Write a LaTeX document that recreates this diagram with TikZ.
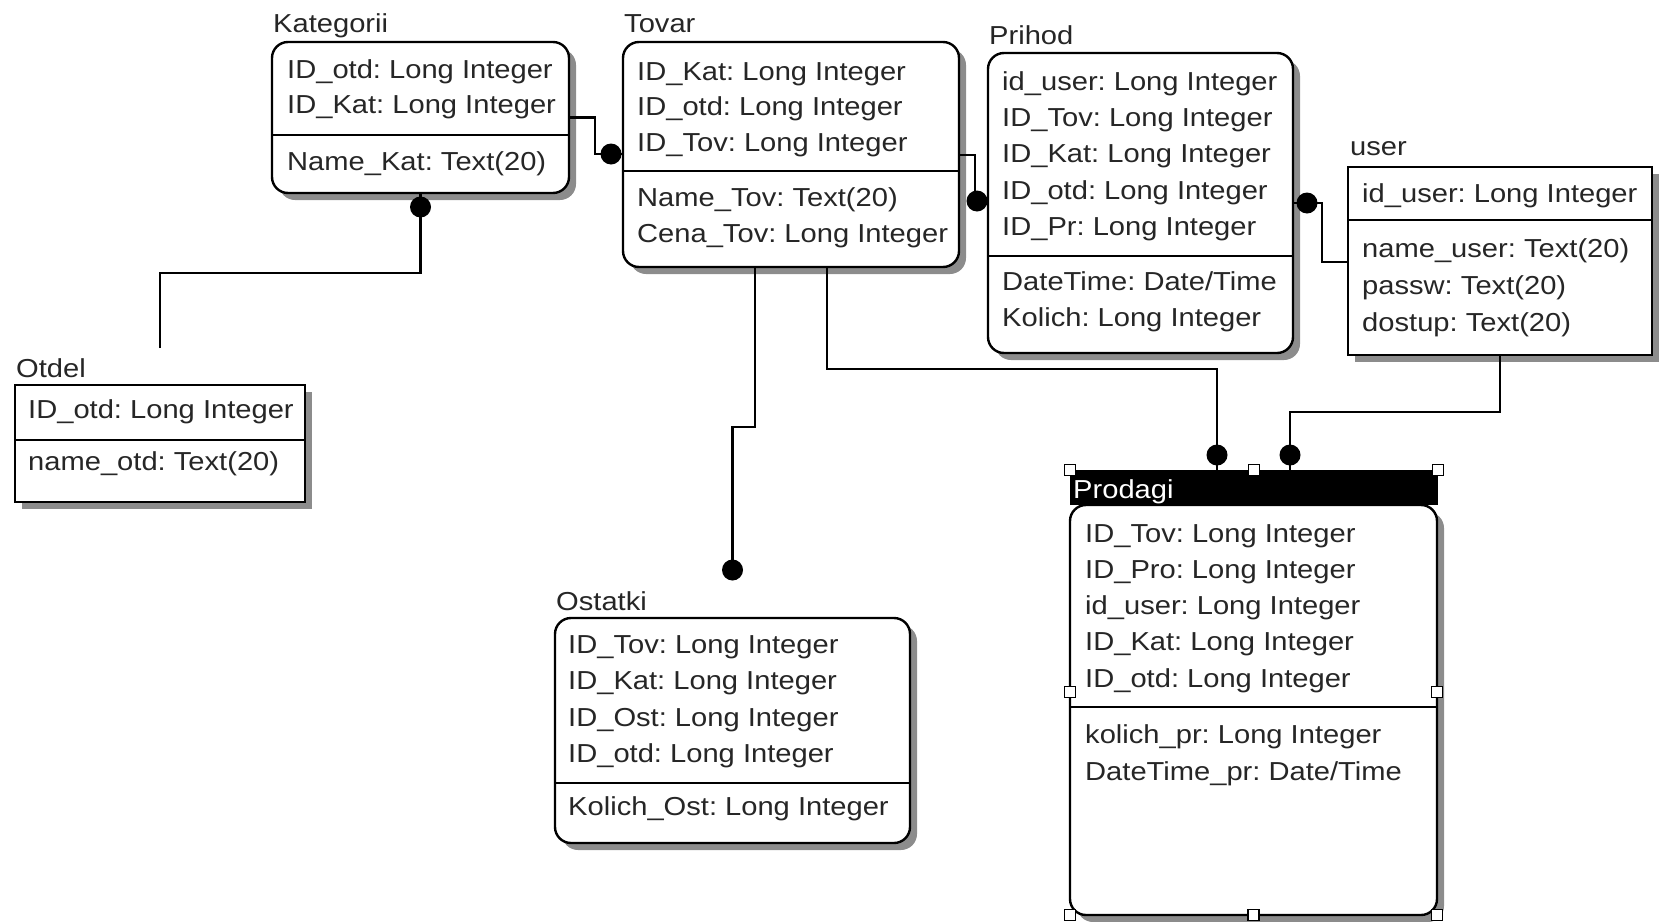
\documentclass[tikz,border=0pt]{standalone}
\usepackage{fontspec}
\setmainfont{Liberation Sans}[FakeStretch=1.12]
\frenchspacing
\usetikzlibrary{shadows,calc}

\tikzset{
  ent/.style={draw, fill=white, line width=2.4pt, anchor=north west,
    inner sep=0pt, outer sep=0pt,
    drop shadow={shadow xshift=7pt, shadow yshift=-7pt, fill=black!45, opacity=1}},
  dep/.style={ent, rounded corners=16pt},
  attr/.style={anchor=base west, inner sep=0pt, text=black!85,
    font=\fontsize{26}{36}\selectfont},
  rel/.style={line width=2.4pt},
  dot/.style={fill=black},
  handle/.style={draw, fill=white, line width=1.6pt, minimum size=11pt, inner sep=0pt}
}

\begin{document}
\begin{tikzpicture}[x=1pt,y=-1pt]
  \useasboundingbox (0,0) rectangle (1662,921);

  % entity boxes
  \node[dep, minimum width=297pt, minimum height=151pt] (kat) at (272,42)  {};
  \node[dep, minimum width=336pt, minimum height=225pt] (tov) at (623,42)  {};
  \node[dep, minimum width=305pt, minimum height=300pt] (pri) at (988,53)  {};
  \node[ent, minimum width=304pt, minimum height=188pt] (usr) at (1348,167) {};
  \node[ent, minimum width=290pt, minimum height=117pt] (otd) at (15,385)  {};
  \node[dep, minimum width=355pt, minimum height=225pt] (ost) at (555,618) {};
  \node[dep, minimum width=367pt, minimum height=410pt] (prd) at (1070,505) {};
  \node[fill=black, anchor=north west, inner sep=0pt, outer sep=0pt,
        minimum width=368pt, minimum height=35pt] (prdh) at (1070,470) {};

  % key / non-key dividers
  \draw[rel] (kat.west |- 0,135) -- (kat.east |- 0,135);
  \draw[rel] (tov.west |- 0,171) -- (tov.east |- 0,171);
  \draw[rel] (pri.west |- 0,256) -- (pri.east |- 0,256);
  \draw[rel] (usr.west |- 0,220) -- (usr.east |- 0,220);
  \draw[rel] (otd.west |- 0,440) -- (otd.east |- 0,440);
  \draw[rel] (ost.west |- 0,783) -- (ost.east |- 0,783);
  \draw[rel] (prd.west |- 0,707) -- (prd.east |- 0,707);

  % titles
  \node[attr] (katT) at (273,32)  {Kategorii};
  \node[attr] (tovT) at (624,32)  {Tovar};
  \node[attr] (priT) at (989,44)  {Prihod};
  \node[attr] (usrT) at (1350,155) {user};
  \node[attr] (otdT) at (16,377)  {Otdel};
  \node[attr] (ostT) at (556,610) {Ostatki};
  \node[attr, text=white] (prdT) at (1073,498) {Prodagi};

  % Kategorii
  \node[attr] (kat1) at (287,78)  {ID\_otd: Long Integer};
  \node[attr] (kat2) at (287,113) {ID\_Kat: Long Integer};
  \node[attr] (kat3) at (287,170) {Name\_Kat: Text(20)};

  % Tovar
  \node[attr] (tov1) at (637,80)  {ID\_Kat: Long Integer};
  \node[attr] (tov2) at (637,115) {ID\_otd: Long Integer};
  \node[attr] (tov3) at (637,151) {ID\_Tov: Long Integer};
  \node[attr] (tov4) at (637,206) {Name\_Tov: Text(20)};
  \node[attr] (tov5) at (637,242) {Cena\_Tov: Long Integer};

  % Prihod
  \node[attr] (pri1) at (1002,90)  {id\_user: Long Integer};
  \node[attr] (pri2) at (1002,126) {ID\_Tov: Long Integer};
  \node[attr] (pri3) at (1002,162) {ID\_Kat: Long Integer};
  \node[attr] (pri4) at (1002,199) {ID\_otd: Long Integer};
  \node[attr] (pri5) at (1002,235) {ID\_Pr: Long Integer};
  \node[attr] (pri6) at (1002,290) {DateTime: Date/Time};
  \node[attr] (pri7) at (1002,326) {Kolich: Long Integer};

  % user
  \node[attr] (usr1) at (1362,202) {id\_user: Long Integer};
  \node[attr] (usr2) at (1362,257) {name\_user: Text(20)};
  \node[attr] (usr3) at (1362,294) {passw: Text(20)};
  \node[attr] (usr4) at (1362,331) {dostup: Text(20)};

  % Otdel
  \node[attr] (otd1) at (28,418) {ID\_otd: Long Integer};
  \node[attr] (otd2) at (28,470) {name\_otd: Text(20)};

  % Ostatki
  \node[attr] (ost1) at (568,653) {ID\_Tov: Long Integer};
  \node[attr] (ost2) at (568,689) {ID\_Kat: Long Integer};
  \node[attr] (ost3) at (568,726) {ID\_Ost: Long Integer};
  \node[attr] (ost4) at (568,762) {ID\_otd: Long Integer};
  \node[attr] (ost5) at (568,815) {Kolich\_Ost: Long Integer};

  % Prodagi
  \node[attr] (prd1) at (1085,542) {ID\_Tov: Long Integer};
  \node[attr] (prd2) at (1085,578) {ID\_Pro: Long Integer};
  \node[attr] (prd3) at (1085,614) {id\_user: Long Integer};
  \node[attr] (prd4) at (1085,650) {ID\_Kat: Long Integer};
  \node[attr] (prd5) at (1085,687) {ID\_otd: Long Integer};
  \node[attr] (prd6) at (1085,743) {kolich\_pr: Long Integer};
  \node[attr] (prd7) at (1085,780) {DateTime\_pr: Date/Time};

  % relationships
  \coordinate (otdtop) at (otd.north |- 0,348);
  \coordinate (osttop) at (ost.north |- 0,570);
  \coordinate (tovin)  at (tov.west |- 0,154);
  \coordinate (priin)  at (pri.west |- 0,201);
  \coordinate (priout) at (pri.east |- 0,203);
  \coordinate (prdin1) at (prdh.north -| 1217,0);
  \coordinate (prdin2) at (prdh.north -| 1290,0);

  \draw[rel] (otdtop) |- ($(kat.south)+(0,80)$) -- (kat.south);
  \draw[rel] (kat.east) -- ++(26,0) |- (tovin);
  \draw[rel] (tov.east |- 0,155) -- (975,155) |- (priin);
  \draw[rel] (priout) -- (1322,203) |- (usr.west |- 0,262);
  \draw[rel] (tov.south -| 755,0) |- (osttop |- 0,427) -- (osttop);
  \draw[rel] (tov.south -| 827,0) |- (1217,369) -- (prdin1);
  \draw[rel] (usr.south) |- (1290,412) -- (prdin2);

  \fill[dot] ($(kat.south)+(0,14)$) circle (10.5pt);
  \fill[dot] ($(tovin)+(-12,0)$) circle (10.5pt);
  \fill[dot] ($(priin)+(-11,0)$) circle (10.5pt);
  \fill[dot] ($(priout)+(14,0)$) circle (10.5pt);
  \fill[dot] (osttop) circle (10.5pt);
  \fill[dot] ($(prdin1)+(0,-15)$) circle (10.5pt);
  \fill[dot] ($(prdin2)+(0,-15)$) circle (10.5pt);

  % selection handles
  \node[handle] (h1) at (prdh.north west) {};
  \node[handle] (h2) at (prdh.north) {};
  \node[handle] (h3) at (prdh.north east) {};
  \node[handle] (h4) at (prd.west |- 0,692) {};
  \node[handle] (h5) at (prd.east |- 0,692) {};
  \node[handle] (h6) at (prd.south west) {};
  \node[handle] (h7) at (prd.south) {};
  \node[handle] (h8) at (prd.south east) {};

\end{tikzpicture}
\end{document}
